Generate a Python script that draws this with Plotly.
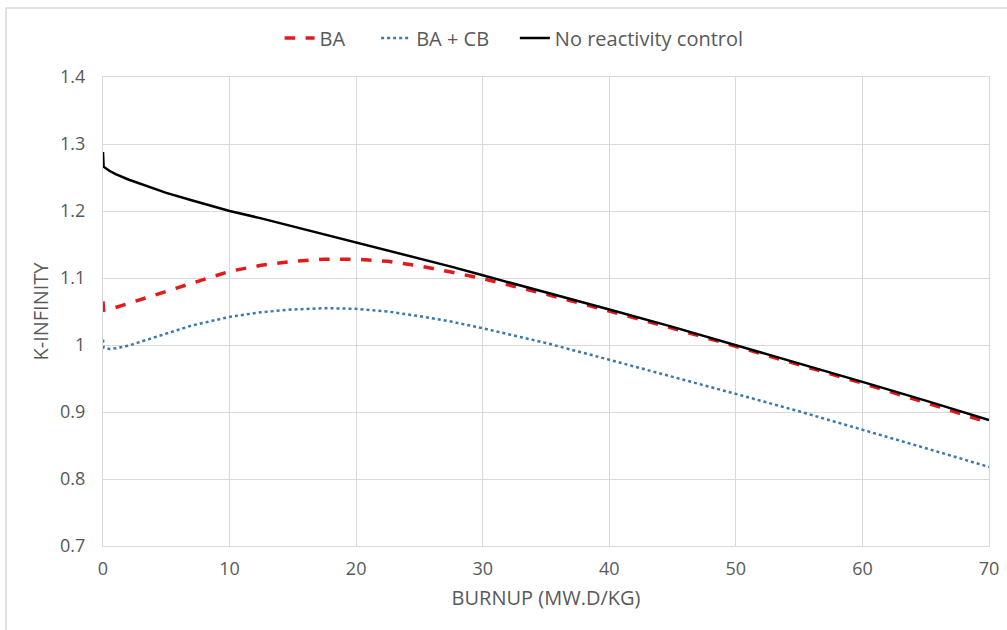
import plotly.graph_objects as go

# Burnup points (MW.d/kg) and k-infinity for each configuration
burnup = [0, 0.05, 0.5, 1, 2, 3, 5, 7, 10, 12.5, 15, 17.5, 20, 22.5, 25, 27.5,
          30, 35, 40, 45, 50, 55, 60, 65, 70]

k_ba = [1.065, 1.052, 1.053, 1.056, 1.061, 1.067, 1.079, 1.092, 1.110, 1.119,
        1.125, 1.128, 1.128, 1.125, 1.118, 1.109, 1.099, 1.076, 1.051, 1.025,
        0.998, 0.971, 0.943, 0.914, 0.884]

k_ba_cb = [1.008, 0.996, 0.994, 0.995, 0.999, 1.005, 1.017, 1.029, 1.042, 1.049,
           1.053, 1.055, 1.054, 1.050, 1.043, 1.035, 1.025, 1.003, 0.978, 0.953,
           0.927, 0.901, 0.874, 0.846, 0.818]

k_none = [1.288, 1.266, 1.260, 1.255, 1.247, 1.240, 1.227, 1.216, 1.200, 1.189,
          1.177, 1.166, 1.154, 1.142, 1.129, 1.117, 1.104, 1.079, 1.053, 1.027,
          1.000, 0.973, 0.945, 0.917, 0.888]

x_ticks = [0, 10, 20, 30, 40, 50, 60, 70]
y_ticks = [0.7, 0.8, 0.9, 1.0, 1.1, 1.2, 1.3, 1.4]
y_tick_text = ["0.7", "0.8", "0.9", "1", "1.1", "1.2", "1.3", "1.4"]

FONT = "Open Sans, Liberation Sans, sans-serif"
GRID = "#d9d9d9"
TEXT = "#595959"
PAD = "\u00a0"  # non-breaking space used to widen gaps between legend entries

fig = go.Figure()
fig.add_trace(go.Scatter(x=burnup, y=k_ba, mode="lines", name="BA" + PAD * 5,
                         line=dict(color="#e31a1c", width=3.5, dash="dash")))
fig.add_trace(go.Scatter(x=burnup, y=k_ba_cb, mode="lines", name="BA + CB" + PAD * 4,
                         line=dict(color="#3c78a8", width=2.5, dash="dot")))
fig.add_trace(go.Scatter(x=burnup, y=k_none, mode="lines", name="No reactivity control",
                         line=dict(color="#000000", width=2.5)))

fig.update_layout(
    width=1007, height=630,
    margin=dict(l=103, r=18, t=77, b=84, autoexpand=False),
    paper_bgcolor="white", plot_bgcolor="white",
    font=dict(family=FONT, color=TEXT, size=18),
    legend=dict(orientation="h", x=0.464, xanchor="center",
                y=1.083, yanchor="middle", font=dict(size=20, color=TEXT),
                traceorder="normal", bgcolor="rgba(0,0,0,0)"),
    shapes=[dict(type="rect", xref="paper", yref="paper",
                 x0=-0.1095, x1=1.03, y0=-0.19, y1=1.147,
                 line=dict(color="#d9d9d9", width=1.5), layer="below")],
)

fig.update_xaxes(range=[0, 70], tickvals=x_ticks, showgrid=True, gridcolor=GRID,
                 gridwidth=1, zeroline=False, showline=True, linecolor=GRID,
                 mirror=True, ticks="", ticklabelstandoff=6,
                 tickfont=dict(size=18, color=TEXT),
                 title=dict(text="BURNUP (MW.D/KG)", font=dict(size=20, color=TEXT),
                            standoff=12))
fig.update_yaxes(range=[0.7, 1.4], tickvals=y_ticks, ticktext=y_tick_text,
                 showgrid=True, gridcolor=GRID, gridwidth=1, zeroline=False,
                 showline=True, linecolor=GRID, mirror=True, ticks="",
                 ticklabelstandoff=13, tickfont=dict(size=18, color=TEXT),
                 title=dict(text="K-INFINITY", font=dict(size=20, color=TEXT),
                            standoff=6))

fig.write_html("out.html")
